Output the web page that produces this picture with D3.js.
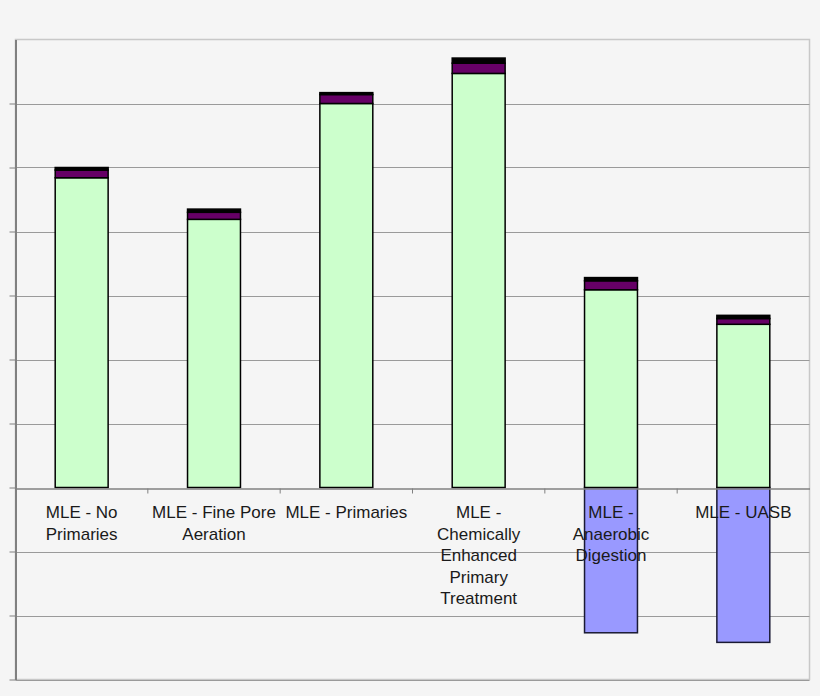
<!DOCTYPE html>
<html lang="en">
  <head>
    <meta charset="UTF-8" />
    <title>MLE stacked bars</title>
    <style>
      body { margin: 0; background: #f5f5f5; }
      svg { display: block; font-family: "Liberation Sans", Arial, sans-serif; }
    </style>
  </head>
  <body>
    <svg width="820" height="696"></svg>

    <script src="https://d3js.org/d3.v7.min.js"></script>
    <script>
      // category labels, one array of lines per bar
      const categories = [
        ["MLE - No", "Primaries"],
        ["MLE - Fine Pore", "Aeration"],
        ["MLE - Primaries"],
        ["MLE -", "Chemically", "Enhanced", "Primary", "Treatment"],
        ["MLE -", "Anaerobic", "Digestion"],
        ["MLE - UASB"],
      ];

      // stacked series (positive)
      const greenVals = [4.84, 4.19, 6.0, 6.47, 3.09, 2.55];
      const purpleVals = [0.12, 0.11, 0.14, 0.16, 0.14, 0.09];
      const blackVals = [0.04, 0.05, 0.03, 0.08, 0.05, 0.05];
      // negative series
      const blueVals = [0, 0, 0, 0, -2.27, -2.42];

      const yTicks = [-3, -2, -1, 0, 1, 2, 3, 4, 5, 6, 7];

      const svg = d3.select("svg");
      const plotLeft = 15.5, plotRight = 809.5, plotTop = 39.5, plotBottom = 679.5;

      const x = d3
        .scaleBand()
        .domain(d3.range(categories.length))
        .range([plotLeft, plotRight])
        .paddingInner(0.6)
        .paddingOuter(0.3);

      const y = d3.scaleLinear().domain([-3, 7]).range([plotBottom, plotTop]);

      // plot frame
      svg.append("rect")
        .attr("x", plotLeft).attr("y", plotTop)
        .attr("width", plotRight - plotLeft).attr("height", plotBottom - plotTop)
        .attr("fill", "#f5f5f5")
        .attr("stroke", "#c8c8c8")
        .attr("stroke-width", 1.5);

      // gridlines
      svg.append("g")
        .selectAll("line")
        .data(yTicks.filter((d) => d !== 7 && d !== 0))
        .join("line")
        .attr("x1", plotLeft).attr("x2", plotRight)
        .attr("y1", (d) => Math.round(y(d)) + 0.5)
        .attr("y2", (d) => Math.round(y(d)) + 0.5)
        .attr("stroke", "#9a9a9a")
        .attr("stroke-width", 1);

      // left axis with outward ticks (none at the top edge)
      const yAxis = d3.axisLeft(y)
        .tickValues(yTicks.filter((d) => d !== 7))
        .tickSize(6)
        .tickSizeOuter(0)
        .tickFormat("");
      const ga = svg.append("g").attr("transform", `translate(${plotLeft},0)`).call(yAxis);
      ga.select(".domain").attr("stroke", "#808080").attr("stroke-width", 2);
      ga.selectAll(".tick line").attr("stroke", "#808080");

      const series = [
        { vals: greenVals, fill: "#ccffcc" },
        { vals: purpleVals, fill: "#660066" },
        { vals: blackVals, fill: "#000000" },
      ];

      const bars = svg.append("g");
      // negative blue parts
      bars.selectAll("rect.neg")
        .data(blueVals)
        .join("rect")
        .attr("class", "neg")
        .attr("x", (d, i) => x(i))
        .attr("width", x.bandwidth())
        .attr("y", y(0))
        .attr("height", (d) => y(d) - y(0))
        .attr("fill", "#9999ff")
        .attr("stroke", "#1a1a33")
        .attr("stroke-width", 1.5)
        .style("display", (d) => (d === 0 ? "none" : null));

      // positive stacks
      series.forEach((s, k) => {
        bars.append("g")
          .selectAll("rect")
          .data(s.vals)
          .join("rect")
          .attr("x", (d, i) => x(i))
          .attr("width", x.bandwidth())
          .attr("y", (d, i) => {
            let base = 0;
            for (let j = 0; j <= k; j++) base += series[j].vals[i];
            return y(base);
          })
          .attr("height", (d) => y(0) - y(d))
          .attr("fill", s.fill)
          .attr("stroke", "#000")
          .attr("stroke-width", 1.5);
      });

      // zero line with category ticks
      const xAxis = d3.axisBottom(x).tickSize(0).tickFormat("");
      const gx = svg.append("g").attr("transform", `translate(0,${Math.round(y(0)) + 0.5})`).call(xAxis);
      gx.select(".domain").attr("stroke", "#808080").attr("stroke-width", 1.5);
      gx.selectAll(".tick").remove();
      gx.selectAll("line.sep")
        .data(d3.range(1, categories.length))
        .join("line")
        .attr("class", "sep")
        .attr("x1", (i) => x(i) - x.step() * x.paddingInner() / 2)
        .attr("x2", (i) => x(i) - x.step() * x.paddingInner() / 2)
        .attr("y1", 0).attr("y2", 5)
        .attr("stroke", "#808080");

      // category labels
      const labels = svg.append("g")
        .attr("font-size", 17)
        .attr("fill", "#1a1a1a")
        .attr("text-anchor", "middle");
      categories.forEach((lines, i) => {
        const t = labels.append("text")
          .attr("x", x(i) + x.bandwidth() / 2)
          .attr("y", 518);
        lines.forEach((ln, j) => {
          t.append("tspan")
            .attr("x", x(i) + x.bandwidth() / 2)
            .attr("dy", j === 0 ? 0 : 21.5)
            .text(ln);
        });
      });
    </script>
  </body>
</html>
